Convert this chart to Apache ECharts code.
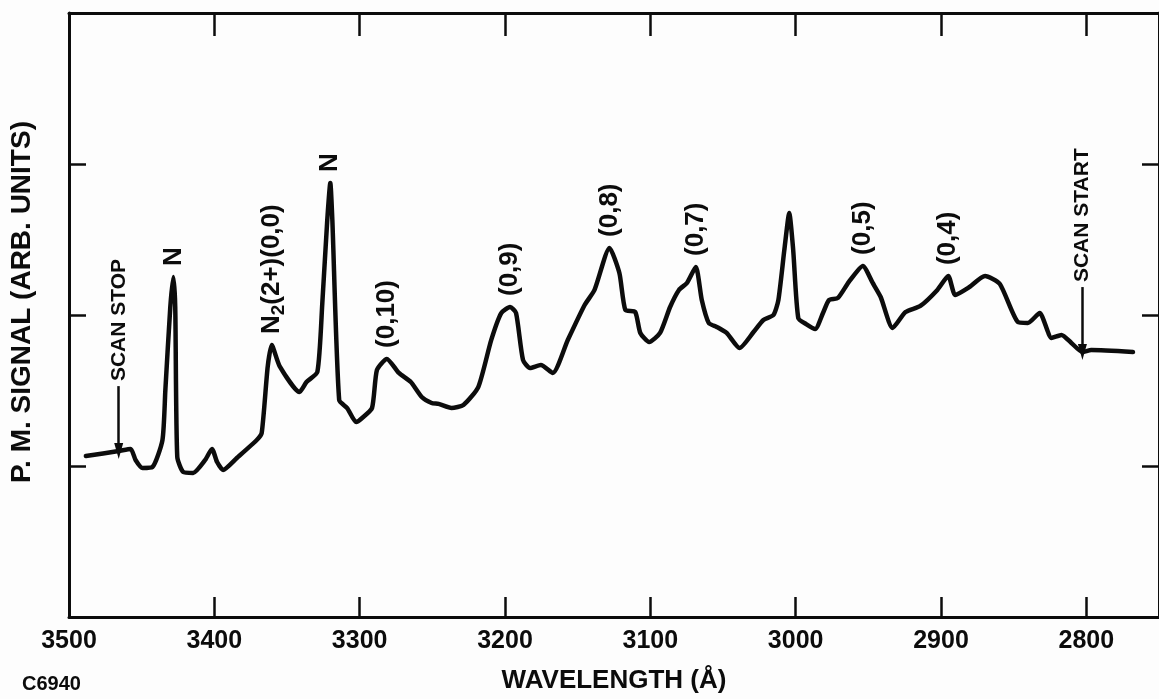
<!DOCTYPE html>
<html>
<head>
<meta charset="utf-8">
<title>P.M. signal vs wavelength</title>
<script src="https://cdn.jsdelivr.net/npm/echarts@6/dist/echarts.min.js"></script>
<style>
  html, body { margin: 0; padding: 0; background: #fdfdfd; }
  #chart { width: 1159px; height: 699px; }
</style>
</head>
<body>
<div id="chart"></div>
<script>
// Spectrometer scan: wavelength (Å) against photomultiplier signal (arbitrary units)
const wavelength = [
  3488.4, 3465.8, 3457.6, 3454.2, 3449.4, 3442.6, 3435.7, 3433.7, 3430.3, 3428.2,
  3426.9, 3425.5, 3421.4, 3414.6, 3406.3, 3401.6, 3398.1, 3394.0, 3384.5, 3370.8,
  3367.4, 3363.3, 3360.5, 3355.1, 3341.4, 3336.6, 3329.1, 3325.7, 3322.3, 3320.2,
  3318.8, 3314.1, 3308.6, 3302.4, 3298.3, 3291.5, 3288.1, 3281.3, 3273.0, 3264.8,
  3257.3, 3250.5, 3245.7, 3236.8, 3228.6, 3218.4, 3209.5, 3202.6, 3196.5, 3192.4,
  3187.6, 3182.8, 3175.3, 3167.1, 3156.8, 3145.2, 3138.4, 3128.1, 3121.3, 3117.2,
  3110.4, 3106.9, 3100.8, 3093.3, 3086.4, 3080.3, 3074.8, 3068.7, 3064.6, 3059.8,
  3054.3, 3047.5, 3038.6, 3029.0, 3022.2, 3015.3, 3011.9, 3007.8, 3004.4, 3001.7,
  2998.2, 2992.8, 2986.6, 2981.2, 2977.1, 2970.9, 2963.4, 2953.8, 2947.0, 2941.5,
  2933.3, 2924.4, 2914.2, 2902.5, 2895.0, 2890.2, 2881.3, 2869.7, 2859.5, 2847.2,
  2840.3, 2832.1, 2823.9, 2817.1, 2810.3, 2802.7, 2796.6, 2767.9
];
const signal = [
  1.066, 1.099, 1.113, 1.040, 0.987, 0.993, 1.172, 1.503, 2.053, 2.252,
  2.053, 1.060, 0.960, 0.954, 1.040, 1.113, 1.026, 0.974, 1.053, 1.172,
  1.219, 1.656, 1.801, 1.662, 1.490, 1.556, 1.623, 2.079, 2.629, 2.874,
  2.629, 1.437, 1.384, 1.291, 1.318, 1.384, 1.636, 1.709, 1.616, 1.556,
  1.457, 1.417, 1.411, 1.384, 1.404, 1.523, 1.834, 2.013, 2.053, 2.013,
  1.702, 1.649, 1.669, 1.616, 1.834, 2.066, 2.166, 2.444, 2.278, 2.033,
  2.020, 1.881, 1.821, 1.881, 2.053, 2.166, 2.212, 2.318, 2.099, 1.947,
  1.921, 1.881, 1.781, 1.887, 1.967, 2.000, 2.099, 2.430, 2.675, 2.430,
  1.980, 1.940, 1.907, 2.013, 2.099, 2.113, 2.219, 2.325, 2.212, 2.119,
  1.914, 2.020, 2.060, 2.166, 2.258, 2.132, 2.179, 2.258, 2.205, 1.954,
  1.947, 2.013, 1.848, 1.868, 1.815, 1.755, 1.768, 1.755
];

// Axis ticks
const wavelengthTicks = [3500, 3400, 3300, 3200, 3100, 3000, 2900, 2800];
const signalTicks = [0, 1, 2, 3, 4];

// Band identifications (rich text: {sub|..} is a subscript)
const bandLabels = ['N', 'N{sub|2}(2+)(0,0)', 'N', '(0,10)', '(0,9)', '(0,8)', '(0,7)', '(0,5)', '(0,4)'];
const bandWavelengths = [3428.2, 3360.5, 3320.2, 3281.3, 3196.5, 3128.1, 3068.7, 2953.8, 2895.0];

// Scan limits
const scanLabels = ['SCAN STOP', 'SCAN START'];
const scanWavelengths = [3465.8, 2802.7];

const FONT = "'Liberation Sans', Arial, Helvetica, sans-serif";
const INK = '#0c0c0c';
const ARROW_LENGTH = 0.43;

function signalAt(wl) {
  let best = 0;
  for (let i = 1; i < wavelength.length; i++) {
    if (Math.abs(wavelength[i] - wl) < Math.abs(wavelength[best] - wl)) best = i;
  }
  return signal[best];
}

const curve = wavelength.map((w, i) => [w, signal[i]]);

const chart = echarts.init(document.getElementById('chart'), null, { renderer: 'canvas' });

const xBase = {
  type: 'value',
  min: 2750,
  max: 3500,
  inverse: true,
  splitLine: { show: false },
  axisLine: { show: true, onZero: false, lineStyle: { color: INK, width: 3 } }
};
const yBase = {
  type: 'value',
  min: signalTicks[0],
  max: signalTicks[signalTicks.length - 1],
  interval: 1,
  splitLine: { show: false },
  axisLabel: { show: false },
  axisLine: { show: true, onZero: false, lineStyle: { color: INK, width: 3 } },
  axisTick: { show: true, inside: true, length: 17, lineStyle: { color: INK, width: 2.5 } }
};

const annotationLabel = {
  show: true,
  position: 'top',
  rotate: 90,
  align: 'left',
  verticalAlign: 'middle',
  formatter: p => p.name,
  fontFamily: FONT,
  fontWeight: 'bold',
  color: INK
};

chart.setOption({
  backgroundColor: '#fdfdfd',
  animation: false,
  grid: { left: 68, top: 13, right: -6, bottom: 82 },
  xAxis: [
    Object.assign({}, xBase, {
      position: 'bottom',
      axisTick: { show: true, inside: true, length: 20, customValues: wavelengthTicks,
                  lineStyle: { color: INK, width: 2.5 } },
      axisLabel: { show: true, customValues: wavelengthTicks, margin: 12,
                   formatter: v => String(v),
                   fontFamily: FONT, fontSize: 25, fontWeight: 'bold', color: INK },
      name: 'WAVELENGTH (Å)',
      nameLocation: 'middle',
      nameGap: 51,
      nameTextStyle: { fontFamily: FONT, fontSize: 26, fontWeight: 'bold', color: INK }
    }),
    Object.assign({}, xBase, {
      position: 'top',
      axisTick: { show: true, inside: true, length: 23, customValues: wavelengthTicks,
                  lineStyle: { color: INK, width: 2.5 } },
      axisLabel: { show: false }
    })
  ],
  yAxis: [
    Object.assign({}, yBase, {
      position: 'left',
      name: 'P. M. SIGNAL (ARB. UNITS)',
      nameLocation: 'middle',
      nameGap: 33,
      nameTextStyle: { fontFamily: FONT, fontSize: 28, fontWeight: 'bold', color: INK,
                       padding: [0, 0, 0, 26] }
    }),
    Object.assign({}, yBase, { position: 'right' })
  ],
  graphic: [{
    type: 'text',
    left: 22,
    top: 674,
    style: { text: 'C6940', font: 'bold 20px ' + FONT, fill: INK }
  }],
  series: [
    {
      name: 'signal',
      type: 'line',
      data: curve,
      showSymbol: false,
      smooth: 0.2,
      lineStyle: { color: INK, width: 4.5, join: 'round', cap: 'round' },
      z: 3
    },
    {
      name: 'bands',
      type: 'scatter',
      symbolSize: 0,
      itemStyle: { opacity: 1 },
      data: bandWavelengths.map((w, i) => ({ name: bandLabels[i], value: [w, signalAt(w)] })),
      label: Object.assign({}, annotationLabel, {
        distance: 11,
        fontSize: 26,
        rich: {
          sub: { fontFamily: FONT, fontSize: 19, fontWeight: 'bold', color: INK, padding: [14, 0, 0, 0] }
        }
      }),
      z: 4
    },
    {
      name: 'scan',
      type: 'scatter',
      symbolSize: 0,
      itemStyle: { opacity: 1 },
      data: scanWavelengths.map((w, i) => ({ name: scanLabels[i], value: [w, signalAt(w) + ARROW_LENGTH] })),
      label: Object.assign({}, annotationLabel, { distance: 5, fontSize: 21 }),
      markLine: {
        silent: true,
        symbol: ['none', 'triangle'],
        symbolSize: [9, 16],
        label: { show: false },
        lineStyle: { color: INK, width: 2.5, type: 'solid' },
        data: scanWavelengths.map(w => [
          { coord: [w, signalAt(w) + ARROW_LENGTH] },
          { coord: [w, signalAt(w)] }
        ])
      },
      z: 4
    }
  ]
});
</script>
</body>
</html>
